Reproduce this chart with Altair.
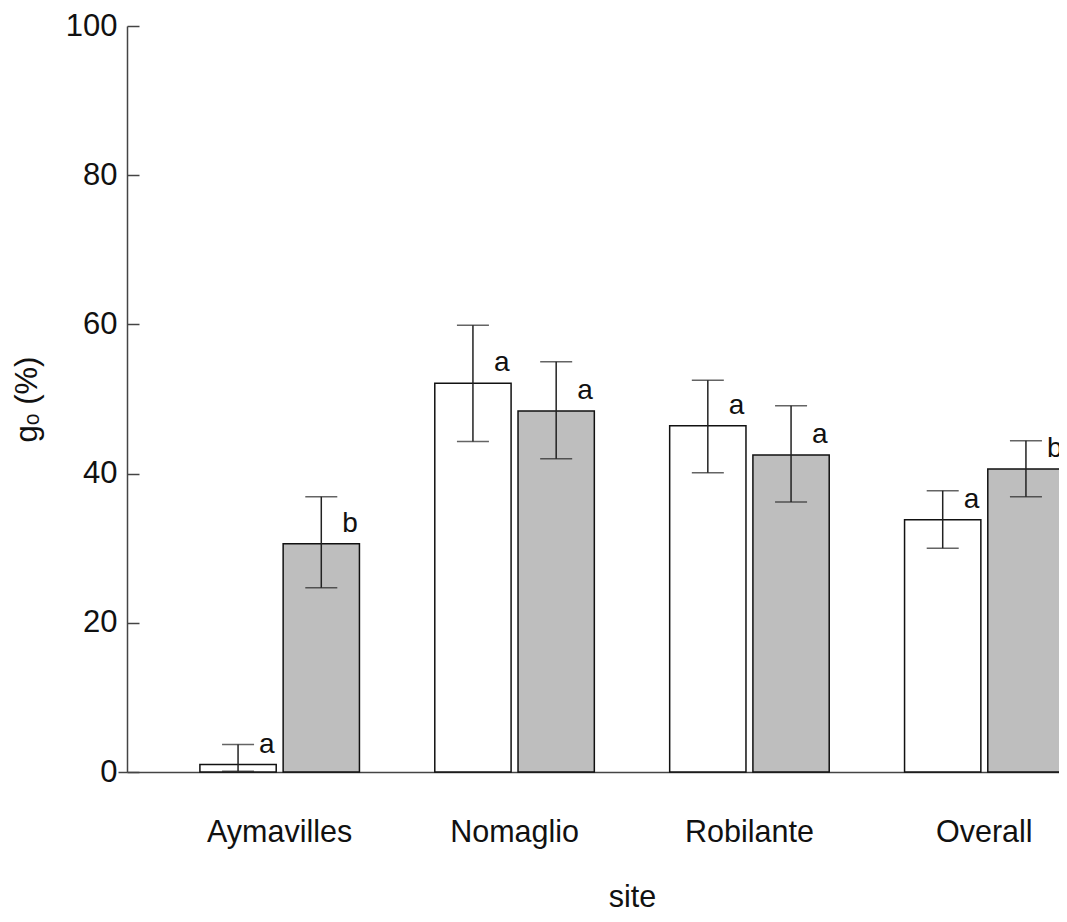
import altair as alt
import pandas as pd

sites = ["Aymavilles", "Nomaglio", "Robilante", "Overall"]
groups = ["white", "grey"]

mean_white = [1.0, 52.1, 46.4, 33.8]
lo_white = [0.1, 44.3, 40.1, 30.0]
hi_white = [3.7, 59.9, 52.5, 37.7]
letter_white = ["a", "a", "a", "a"]

mean_grey = [30.6, 48.4, 42.5, 40.6]
lo_grey = [24.7, 42.0, 36.2, 36.9]
hi_grey = [36.9, 55.0, 49.1, 44.4]
letter_grey = ["b", "a", "a", "b"]

y_ticks = [0, 20, 40, 60, 80, 100]

rows = []
for i, s in enumerate(sites):
    rows.append(dict(site=s, grp=groups[0], mean=mean_white[i], lo=lo_white[i],
                     hi=hi_white[i], letter=letter_white[i]))
    rows.append(dict(site=s, grp=groups[1], mean=mean_grey[i], lo=lo_grey[i],
                     hi=hi_grey[i], letter=letter_grey[i]))
df = pd.DataFrame(rows)

FONT = "Liberation Sans"
PLOT_W = 932
PLOT_H = 746

def yscale():
    return alt.Scale(domain=[0, 100], nice=False, zero=True)

xscale = alt.Scale(range=[0, 1010], paddingInner=0, paddingOuter=0.15)
oscale = alt.Scale(domain=groups, paddingInner=0.0833, paddingOuter=0.4526)

x_axis = alt.Axis(
    title="site", labelFontSize=30.5, titleFontSize=30.5, labelFont=FONT, titleFont=FONT,
    titleFontWeight="normal", labelColor="#111", titleColor="#111",
    ticks=False, domain=True, domainColor="#444", domainWidth=1.5,
    labelPadding=45, titlePadding=35, labelAngle=0,
)
x_enc = alt.X("site:N", sort=sites, scale=xscale, axis=x_axis)
xo_enc = alt.XOffset("grp:N", sort=groups, scale=oscale)

# inward ticks drawn as short dashed grid segments starting at the axis line
left_axis = alt.Axis(
    orient="left", values=y_ticks, title="gₒ (%)",
    grid=True, gridDash=[12, 4000], gridColor="#444", gridWidth=1.5,
    labelFontSize=31, titleFontSize=31, labelFont=FONT, titleFont=FONT,
    titleFontWeight="normal", labelColor="#111", titleColor="#111",
    domain=True, domainColor="#444", domainWidth=1.5,
    ticks=True, tickSize=9, tickColor="#444", tickWidth=1.5,
    tickOpacity=alt.condition("datum.value == 0", alt.value(1), alt.value(0)),
    labelPadding=1, titlePadding=22,
)

base = alt.Chart(df)

bars = base.mark_bar(stroke="#111", strokeWidth=1.5).encode(
    x=x_enc,
    xOffset=xo_enc,
    y=alt.Y("mean:Q", scale=yscale(), axis=left_axis),
    fill=alt.Fill("grp:N", scale=alt.Scale(domain=groups, range=["#ffffff", "#bebebe"]),
                  legend=None),
)

err = base.mark_rule(color="#222", strokeWidth=1.5).encode(
    x=x_enc,
    xOffset=xo_enc,
    y=alt.Y("lo:Q", scale=yscale(), axis=None),
    y2="hi:Q",
)

cap_hi = base.mark_tick(color="#222", size=32, thickness=1.5).encode(
    x=x_enc, xOffset=xo_enc, y=alt.Y("hi:Q", scale=yscale(), axis=None),
)
cap_lo = base.mark_tick(color="#222", size=32, thickness=1.5).encode(
    x=x_enc, xOffset=xo_enc, y=alt.Y("lo:Q", scale=yscale(), axis=None),
)

letters = base.mark_text(align="left", baseline="alphabetic", dx=21, dy=-12,
                         fontSize=28, font=FONT, color="#111").encode(
    x=x_enc, xOffset=xo_enc, y=alt.Y("mean:Q", scale=yscale(), axis=None),
    text="letter:N",
)

chart = alt.layer(bars, err, cap_hi, cap_lo, letters).resolve_scale(
    y="independent"
).resolve_axis(y="independent").properties(
    width=PLOT_W, height=PLOT_H,
    autosize=alt.AutoSizeParams(type="none"),
    padding={"left": 119, "top": 18, "right": 0, "bottom": 142},
    background="white",
).configure_view(stroke=None)

chart.save("out.html", embed_options={"renderer": "svg", "actions": False})
